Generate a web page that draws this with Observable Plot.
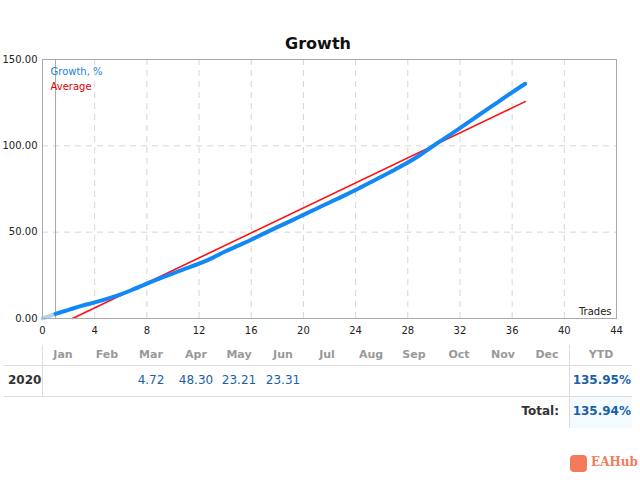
<!DOCTYPE html>
<html>
<head>
<meta charset="utf-8">
<script src="https://cdn.jsdelivr.net/npm/d3@7"></script>
<script src="https://cdn.jsdelivr.net/npm/@observablehq/plot@0.6"></script>
<style>
  body { margin: 0; background: #fff; font-family: "DejaVu Sans", Tahoma, sans-serif; }
  #wrap { position: relative; width: 640px; height: 480px; overflow: hidden; }
  #title { position: absolute; left: 0; width: 636px; top: 34px; text-align: center; font-size: 16px; font-weight: bold; color: #111; }
  #chart { position: absolute; left: 0; top: 0; }
  .t { position: absolute; font-size: 12px; white-space: nowrap; }
  .hline { position: absolute; height: 1px; background: #ddd; }
  .vline { position: absolute; width: 1px; background: #ddd; }
</style>
</head>
<body>
<div id="wrap">
  <div id="chart"></div>
  <div id="title">Growth</div>
</div>
<script>
// ---- data ----
const trades = [0,1,2,3,4,5,6,7,8,9,10,11,12,13,14,15,16,17,18,19,20,21,22,23,24,25,26,27,28,29,30,31,32,33,34,35,36,37];
const growth = [0,2.7,5.0,7.3,9.3,11.5,14.0,17.0,20.2,23.2,26.2,29.0,31.8,35.0,38.8,42.2,45.6,49.3,52.9,56.4,60.0,63.6,67.2,70.7,74.4,78.3,82.2,86.2,90.3,95.0,100.2,105.2,110.3,115.5,120.7,125.8,131.0,135.95];
const avgTrades = [2.3, 37];
const avgValues = [0, 125.6];
const xTicks = [0,4,8,12,16,20,24,28,32,36,40,44];
const yTicks = [0,50,100,150];
const months = ["Jan","Feb","Mar","Apr","May","Jun","Jul","Aug","Sep","Oct","Nov","Dec"];
const monthValues = [null,null,4.72,48.30,23.21,23.31,null,null,null,null,null,null];
const yearLabel = "2020";
const ytdValue = "135.95%";
const totalValue = "135.94%";

// ---- chart ----
const pts = trades.map((t, i) => ({t, g: growth[i]}));
const firstSeg = pts.slice(0, 2);
const restSeg = pts.slice(1);
const avg = avgTrades.map((t, i) => ({t, g: avgValues[i]}));

const plot = Plot.plot({
  width: 640,
  height: 340,
  marginLeft: 42,
  marginRight: 24,
  marginTop: 59,
  marginBottom: 22,
  style: {fontFamily: "DejaVu Sans, Tahoma, sans-serif", fontSize: "10px", color: "#222", background: "transparent"},
  x: {domain: [0, 44]},
  y: {domain: [0, 150]},
  marks: [
    Plot.gridX(xTicks.slice(1, -1), {stroke: "#d6d6d6", strokeOpacity: 1, strokeDasharray: "6,5"}),
    Plot.gridY([50, 100], {stroke: "#d6d6d6", strokeOpacity: 1, strokeDasharray: "6,5"}),
    Plot.ruleX([1], {stroke: "#a8a8a8", strokeWidth: 1}),
    Plot.line(avg, {x: "t", y: "g", stroke: "#ff1010", strokeWidth: 1.6}),
    Plot.line(firstSeg, {x: "t", y: "g", stroke: "#b5d3ee", strokeWidth: 4}),
    Plot.line(restSeg, {x: "t", y: "g", stroke: "#1288f6", strokeWidth: 4, strokeLinejoin: "round", curve: "monotone-x"}),
    Plot.frame({stroke: "#aaa"}),
    Plot.axisX(xTicks, {tickSize: 0, tickPadding: 8, fontSize: 10, label: null}),
    Plot.axisY(yTicks, {tickSize: 0, tickPadding: 5, fontSize: 10, label: null, tickFormat: d3.format(".2f")}),
    Plot.text(["Trades"], {frameAnchor: "bottom-right", dx: -5, dy: -4, fontSize: 10, fill: "#222", textAnchor: "end"}),
    Plot.text(["Growth, %"], {frameAnchor: "top-left", dx: 8, dy: 8, fontSize: 10, fill: "#1a7fe0", textAnchor: "start"}),
    Plot.text(["Average"], {frameAnchor: "top-left", dx: 8, dy: 23, fontSize: 10, fill: "#e00000", textAnchor: "start"})
  ]
});
document.getElementById("chart").appendChild(plot);

// ---- table ----
const wrap = document.getElementById("wrap");
function el(cls, css, text) {
  const d = document.createElement("div");
  d.className = cls;
  Object.assign(d.style, css);
  if (text != null) d.textContent = text;
  wrap.appendChild(d);
  return d;
}
// background for total cell
el("", {position: "absolute", left: "570px", top: "397px", width: "62px", height: "31px", background: "#f3fbff"});
el("hline", {left: "4px", top: "365px", width: "628px"});
el("hline", {left: "4px", top: "396px", width: "628px"});
el("vline", {left: "42px", top: "345px", height: "51px"});
el("vline", {left: "569px", top: "345px", height: "83px"});

const colX = [63,107,151,196,239,283,327,371,414,459,503,547];
months.forEach((m, i) => {
  el("t", {left: (colX[i] - 30) + "px", width: "60px", textAlign: "center", top: "348px", color: "#999", fontWeight: "bold", fontSize: "11px"}, m);
  if (monthValues[i] != null) {
    el("t", {left: (colX[i] - 30) + "px", width: "60px", textAlign: "center", top: "373px", color: "#1a5fa8"}, monthValues[i].toFixed(2));
  }
});
el("t", {left: "570px", width: "62px", textAlign: "center", top: "348px", color: "#999", fontWeight: "bold", fontSize: "11px"}, "YTD");
el("t", {left: "8px", top: "373px", color: "#333", fontWeight: "bold"}, yearLabel);
el("t", {left: "560px", width: "71px", textAlign: "right", top: "373px", color: "#1a5fa8", fontWeight: "bold"}, ytdValue);
el("t", {left: "470px", width: "89px", textAlign: "right", top: "404px", color: "#333", fontWeight: "bold"}, "Total:");
el("t", {left: "560px", width: "71px", textAlign: "right", top: "404px", color: "#1a5fa8", fontWeight: "bold"}, totalValue);

// watermark
el("", {position: "absolute", left: "570px", top: "455px", width: "17px", height: "17px", borderRadius: "4px", background: "#f47a5c"});
el("t", {left: "591px", top: "455px", color: "#f47a5c", fontWeight: "bold", fontSize: "12px", fontFamily: "DejaVu Serif, serif"}, "EAHub");
</script>
</body>
</html>
